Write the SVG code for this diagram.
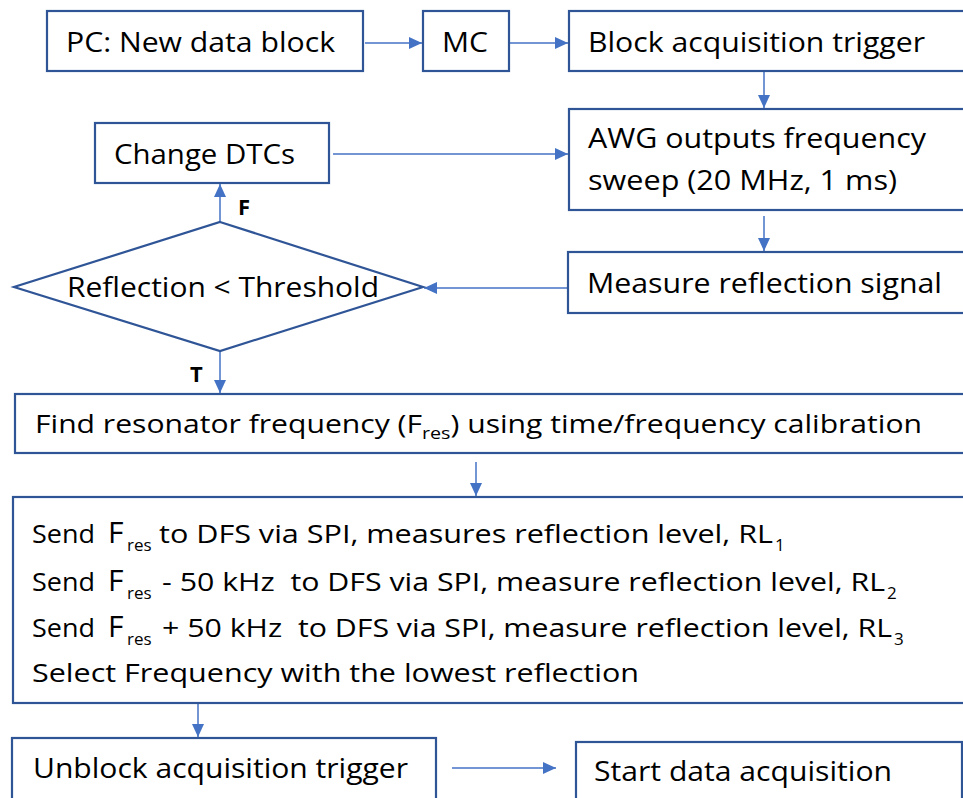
<svg xmlns="http://www.w3.org/2000/svg" width="963" height="798" viewBox="0 0 963 798">
<style>
.box{fill:#fff;stroke:#2F5597;stroke-width:2.2}
.t{font-family:"Open Sans","Liberation Sans",sans-serif;font-size:28px;fill:#000;white-space:pre}
.tb{font-family:"Open Sans","Liberation Sans",sans-serif;font-size:26px;fill:#000;white-space:pre}
.big{font-size:30px}
.sub{font-size:17px}
.lbl{font-family:"Open Sans","Liberation Sans",sans-serif;font-size:22px;font-weight:bold;fill:#000}
.c{fill:none;stroke:#4472C4;stroke-width:1.5}
</style>
<defs>
<marker id="ah" markerUnits="userSpaceOnUse" markerWidth="14" markerHeight="12" refX="13" refY="6" orient="auto">
<path d="M0,0 L13,6 L0,12 z" fill="#4472C4"/>
</marker>
</defs>
<rect width="963" height="798" fill="#fff"/>
<g id="connectors">
<path class="c" d="M365,43 H422" marker-end="url(#ah)"/>
<path class="c" d="M510,43 H568" marker-end="url(#ah)"/>
<path class="c" d="M764,72 V108" marker-end="url(#ah)"/>
<path class="c" d="M333,154 H568" marker-end="url(#ah)"/>
<path class="c" d="M764,216 V251" marker-end="url(#ah)"/>
<path class="c" d="M568,288 H424" marker-end="url(#ah)"/>
<path class="c" d="M220,222 V184" marker-end="url(#ah)"/>
<path class="c" d="M220,351 V393" marker-end="url(#ah)"/>
<path class="c" d="M476,462 V496" marker-end="url(#ah)"/>
<path class="c" d="M198,704 V737" marker-end="url(#ah)"/>
<path class="c" d="M452,768 H556" marker-end="url(#ah)"/>
<text class="lbl" x="238" y="215">F</text>
<text class="lbl" x="190" y="382">T</text>
</g>
<g id="pc">
<rect class="box" x="47" y="11" width="316" height="60"/>
<text class="t" x="66" y="52" textLength="269" lengthAdjust="spacingAndGlyphs">PC: New data block</text>
</g>
<g id="mc">
<rect class="box" x="423" y="11" width="86" height="60"/>
<text class="t" x="442" y="52" textLength="46" lengthAdjust="spacingAndGlyphs">MC</text>
</g>
<g id="block">
<rect class="box" x="569" y="11" width="420" height="60"/>
<text class="t" x="588" y="52" textLength="337" lengthAdjust="spacingAndGlyphs">Block acquisition trigger</text>
</g>
<g id="awg">
<rect class="box" x="569" y="109" width="420" height="101"/>
<text class="t" x="588" y="148" textLength="338" lengthAdjust="spacingAndGlyphs">AWG outputs frequency</text>
<text class="t" x="588" y="190" textLength="309" lengthAdjust="spacingAndGlyphs">sweep (20 MHz, 1 ms)</text>
</g>
<g id="change">
<rect class="box" x="95" y="123" width="234" height="60"/>
<text class="t" x="114" y="164" textLength="181" lengthAdjust="spacingAndGlyphs">Change DTCs</text>
</g>
<g id="measure">
<rect class="box" x="568" y="252" width="420" height="61"/>
<text class="t" x="587" y="293" textLength="355" lengthAdjust="spacingAndGlyphs">Measure reflection signal</text>
</g>
<g id="decision">
<polygon class="box" points="220,222 423,287 220,351 14,287"/>
<text class="t" x="67" y="297" textLength="312" lengthAdjust="spacingAndGlyphs">Reflection &lt; Threshold</text>
</g>
<g id="find">
<rect class="box" x="15" y="394" width="990" height="59"/>
<text class="tb" x="35" y="433" textLength="887" lengthAdjust="spacingAndGlyphs">Find resonator frequency (F<tspan class="sub" dy="6">res</tspan><tspan dy="-6">) using time/frequency calibration</tspan></text>
</g>
<g id="select">
<rect class="box" x="13" y="497" width="990" height="206"/>
<text class="tb" x="32" y="543" textLength="63" lengthAdjust="spacingAndGlyphs">Send</text>
<text class="tb big" x="108" y="543">F</text>
<text class="tb sub" x="127" y="551">res</text>
<text class="tb" x="159" y="543" textLength="614" lengthAdjust="spacingAndGlyphs">to DFS via SPI, measures reflection level, RL</text>
<text class="tb sub" x="775" y="551">1</text>
<text class="tb" x="32" y="591" textLength="63" lengthAdjust="spacingAndGlyphs">Send</text>
<text class="tb big" x="108" y="591">F</text>
<text class="tb sub" x="127" y="599">res</text>
<text class="tb" x="162" y="591" textLength="723" lengthAdjust="spacingAndGlyphs">- 50 kHz  to DFS via SPI, measure reflection level, RL</text>
<text class="tb sub" x="887" y="599">2</text>
<text class="tb" x="32" y="637" textLength="63" lengthAdjust="spacingAndGlyphs">Send</text>
<text class="tb big" x="108" y="637">F</text>
<text class="tb sub" x="127" y="645">res</text>
<text class="tb" x="162" y="637" textLength="730" lengthAdjust="spacingAndGlyphs">+ 50 kHz  to DFS via SPI, measure reflection level, RL</text>
<text class="tb sub" x="894" y="645">3</text>
<text class="tb" x="32" y="682" textLength="607" lengthAdjust="spacingAndGlyphs">Select Frequency with the lowest reflection</text>
</g>
<g id="unblock">
<rect class="box" x="12" y="738" width="424" height="80"/>
<text class="t" x="33" y="778" textLength="375" lengthAdjust="spacingAndGlyphs">Unblock acquisition trigger</text>
</g>
<g id="start">
<rect class="box" x="576" y="742" width="386" height="80"/>
<text class="t" x="594" y="781" textLength="298" lengthAdjust="spacingAndGlyphs">Start data acquisition</text>
</g>
</svg>
